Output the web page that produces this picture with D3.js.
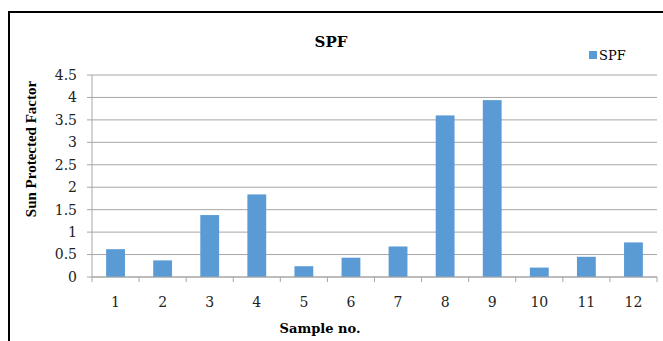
<!DOCTYPE html>
<html>
<head>
<meta charset="utf-8">
<script src="https://cdn.jsdelivr.net/npm/d3@7"></script>
<style>
  body { margin: 0; background: #fff; }
  svg text { font-family: "DejaVu Serif", serif; }
</style>
</head>
<body>
<svg id="chart" width="663" height="341"></svg>
<script>
const samples = ["1", "2", "3", "4", "5", "6", "7", "8", "9", "10", "11", "12"];
const spf = [0.62, 0.37, 1.38, 1.84, 0.24, 0.43, 0.68, 3.60, 3.94, 0.21, 0.45, 0.77];
const yTicks = [0, 0.5, 1, 1.5, 2, 2.5, 3, 3.5, 4, 4.5];

const svg = d3.select("#chart");
const plotLeft = 92, plotRight = 657, plotTop = 75, plotBottom = 277;

// outer frame
svg.append("rect")
  .attr("x", 9).attr("y", 12)
  .attr("width", 700).attr("height", 400)
  .attr("fill", "none")
  .attr("stroke", "#000")
  .attr("stroke-width", 2);

const x = d3.scaleBand().domain(samples).range([plotLeft, plotRight]).paddingInner(0.6).paddingOuter(0.3);
const y = d3.scaleLinear().domain([0, 4.5]).range([plotBottom, plotTop]);

// gridlines
svg.append("g")
  .selectAll("line")
  .data(yTicks)
  .enter()
  .append("line")
  .attr("x1", plotLeft - 5)
  .attr("x2", plotRight)
  .attr("y1", d => y(d))
  .attr("y2", d => y(d))
  .attr("stroke", "#a6a6a6")
  .attr("stroke-width", 1);

// y axis line
svg.append("line")
  .attr("x1", plotLeft).attr("x2", plotLeft)
  .attr("y1", plotTop).attr("y2", plotBottom)
  .attr("stroke", "#a6a6a6");

// y tick labels
svg.append("g")
  .selectAll("text")
  .data(yTicks)
  .enter()
  .append("text")
  .attr("x", 77)
  .attr("y", d => y(d))
  .attr("dy", "0.35em")
  .attr("text-anchor", "end")
  .attr("font-size", "14px")
  .attr("fill", "#222")
  .text(d => d);

// bars
svg.append("g")
  .selectAll("rect")
  .data(spf)
  .enter()
  .append("rect")
  .attr("x", (d, i) => x(samples[i]))
  .attr("y", d => y(d))
  .attr("width", x.bandwidth())
  .attr("height", d => y(0) - y(d))
  .attr("fill", "#5b9bd5");

// x axis line and ticks between categories
const step = (plotRight - plotLeft) / samples.length;
svg.append("line")
  .attr("x1", plotLeft).attr("x2", plotRight)
  .attr("y1", plotBottom).attr("y2", plotBottom)
  .attr("stroke", "#a6a6a6");

svg.append("g")
  .selectAll("line")
  .data(d3.range(samples.length + 1))
  .enter()
  .append("line")
  .attr("x1", i => plotLeft + i * step)
  .attr("x2", i => plotLeft + i * step)
  .attr("y1", plotBottom)
  .attr("y2", plotBottom + 5)
  .attr("stroke", "#a6a6a6");

// x tick labels
svg.append("g")
  .selectAll("text")
  .data(samples)
  .enter()
  .append("text")
  .attr("x", d => x(d) + x.bandwidth() / 2)
  .attr("y", 302)
  .attr("dy", "0.35em")
  .attr("text-anchor", "middle")
  .attr("font-size", "14px")
  .attr("fill", "#222")
  .text(d => d);

// title
svg.append("text")
  .attr("x", 331).attr("y", 47)
  .attr("text-anchor", "middle")
  .attr("font-size", "15px")
  .attr("font-weight", "bold")
  .text("SPF");

// legend
svg.append("rect")
  .attr("x", 589).attr("y", 51)
  .attr("width", 8).attr("height", 8)
  .attr("fill", "#5b9bd5");
svg.append("text")
  .attr("x", 599).attr("y", 55)
  .attr("dy", "0.35em")
  .attr("font-size", "13px")
  .text("SPF");

// axis titles
svg.append("text")
  .attr("x", 320).attr("y", 328)
  .attr("dy", "0.35em")
  .attr("text-anchor", "middle")
  .attr("font-size", "13px")
  .attr("font-weight", "bold")
  .text("Sample no.");

svg.append("text")
  .attr("transform", "translate(31,149) rotate(-90)")
  .attr("text-anchor", "middle")
  .attr("dy", "0.35em")
  .style("font-family", "'Liberation Serif', serif")
  .attr("font-size", "15px")
  .attr("font-weight", "bold")
  .text("Sun Protected Factor");
</script>
</body>
</html>
